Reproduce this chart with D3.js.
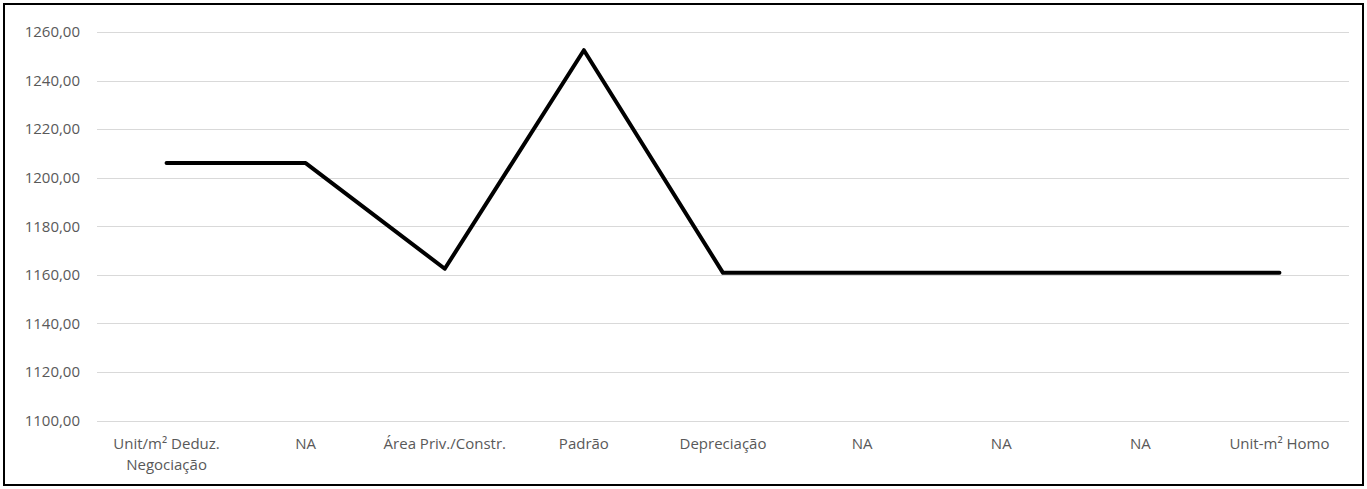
<!DOCTYPE html>
<html>
<head>
<meta charset="utf-8">
<script src="https://cdn.jsdelivr.net/npm/d3@7"></script>
<style>
  body { margin: 0; background: #fff; }
  svg text { font-family: "Open Sans", "Noto Sans", sans-serif; fill: #595959; }
</style>
</head>
<body>
<svg id="chart"></svg>
<script>
var categories = ["Unit/m² Deduz. Negociação", "NA", "Área Priv./Constr.", "Padrão", "Depreciação", "NA", "NA", "NA", "Unit-m² Homo"];
var values = [1206.0, 1206.0, 1162.5, 1252.5, 1160.8, 1160.8, 1160.8, 1160.8, 1160.8];
var yTicks = [1100, 1120, 1140, 1160, 1180, 1200, 1220, 1240, 1260];

var W = 1367, H = 489,
  margins = {top: 32, right: 18, bottom: 68, left: 97};

var svg = d3.select("#chart")
  .attr("width", W)
  .attr("height", H);

// outer frame
svg.append("rect")
  .attr("x", 4).attr("y", 4)
  .attr("width", W - 8).attr("height", H - 8)
  .attr("fill", "#fff")
  .attr("stroke", "#000")
  .attr("stroke-width", 2);

var x = d3.scaleBand()
  .domain(d3.range(categories.length))
  .range([margins.left, W - margins.right]);

var y = d3.scaleLinear()
  .domain([1100, 1260])
  .range([H - margins.bottom - 0.5, margins.top]);

// gridlines
svg.append("g")
  .selectAll("line")
  .data(yTicks)
  .enter().append("line")
  .attr("x1", margins.left)
  .attr("x2", W - margins.right)
  .attr("y1", function(d) { return Math.round(y(d)) + 0.5; })
  .attr("y2", function(d) { return Math.round(y(d)) + 0.5; })
  .attr("stroke", "#d9d9d9")
  .attr("stroke-width", 1);

// y axis labels
var fmt = function(d) { return d3.format(".2f")(d).replace(".", ","); };
svg.append("g")
  .selectAll("text")
  .data(yTicks)
  .enter().append("text")
  .attr("x", 80)
  .attr("y", function(d) { return y(d); })
  .attr("dy", "0.35em")
  .attr("text-anchor", "end")
  .style("font-size", "15px")
  .text(fmt);

// x labels (wrap long ones)
var xl = svg.append("g")
  .selectAll("text")
  .data(categories)
  .enter().append("text")
  .attr("text-anchor", "middle")
  .style("font-size", "15px")
  .attr("transform", function(d, i) { return "translate(" + (x(i) + x.bandwidth() / 2) + "," + 449 + ")"; });

xl.each(function(d) {
  var t = d3.select(this);
  var lines = d === "Unit/m² Deduz. Negociação" ? ["Unit/m² Deduz.", "Negociação"] : [d];
  lines.forEach(function(l, k) {
    t.append("tspan").attr("x", 0).attr("y", k * 21).text(l);
  });
});

// line
var line = d3.line()
  .x(function(d, i) { return x(i) + x.bandwidth() / 2; })
  .y(function(d) { return y(d); });

svg.append("path")
  .datum(values)
  .attr("d", line)
  .attr("fill", "none")
  .attr("stroke", "#000")
  .attr("stroke-width", 4)
  .attr("stroke-linecap", "round")
  .attr("stroke-linejoin", "round");
</script>
</body>
</html>
